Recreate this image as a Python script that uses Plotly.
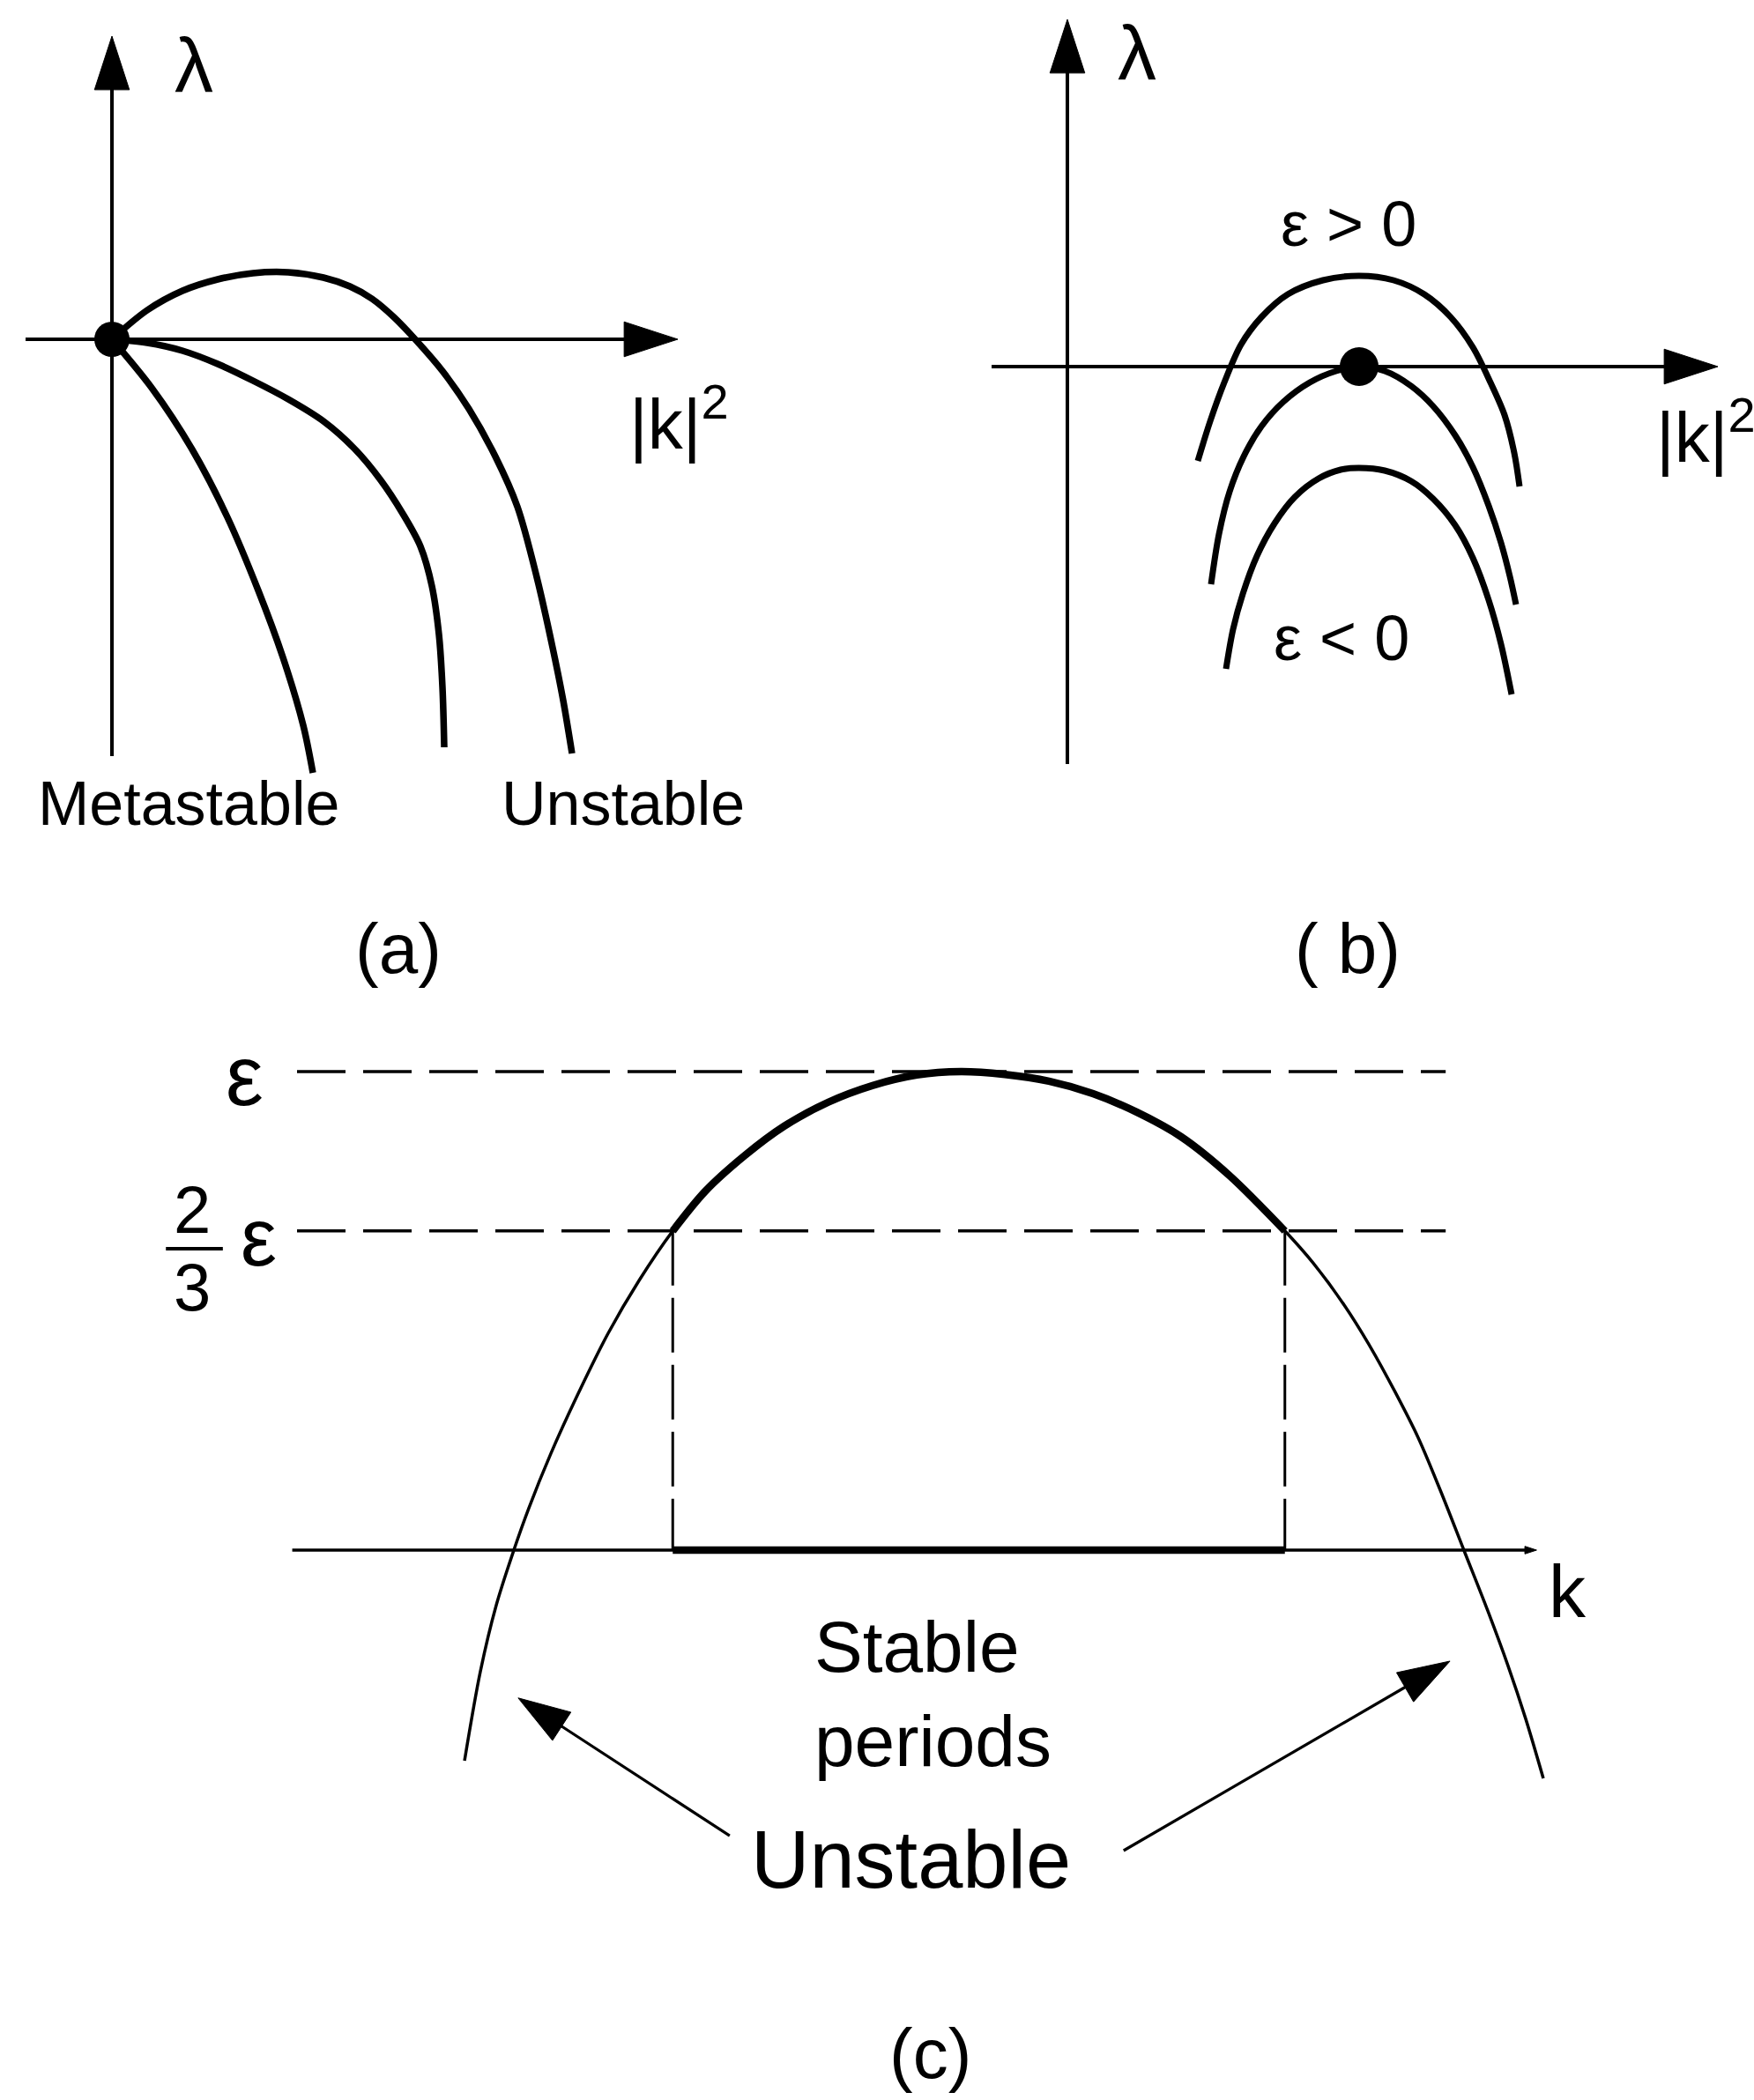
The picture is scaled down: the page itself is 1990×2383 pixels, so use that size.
import plotly.graph_objects as go

W, H = 1990, 2383

# ---------------- panel (a): λ versus |k|^2, from the origin ----------------
a_axis_k2 = [-0.98, 6.42]
a_axis_lam = [-4.73, 3.44]
a_k2_unstable = [0, 0.40, 0.80, 1.20, 1.60, 2.00, 2.40, 2.70, 2.95, 3.20, 3.44,
                 3.75, 4.05, 4.35, 4.60, 4.82, 5.00, 5.12, 5.22]
a_lam_unstable = [0, 0.33, 0.55, 0.68, 0.75, 0.76, 0.70, 0.60, 0.46, 0.25, 0.00,
                  -0.36, -0.79, -1.33, -1.90, -2.70, -3.50, -4.10, -4.70]
a_k2_marginal = [0, 0.40, 0.80, 1.20, 1.60, 2.00, 2.40, 2.75, 3.05, 3.30,
                 3.50, 3.63, 3.71, 3.75, 3.77]
a_lam_marginal = [0, -0.04, -0.13, -0.28, -0.47, -0.68, -0.93, -1.24, -1.60, -1.98,
                  -2.35, -2.80, -3.35, -3.95, -4.63]
a_k2_meta = [0, 0.45, 0.91, 1.31, 1.66, 1.94, 2.17, 2.28]
a_lam_meta = [0, -0.55, -1.25, -2.02, -2.85, -3.61, -4.38, -4.92]
a_critical = (0.0, 0.0)

# ---------------- panel (b): λ versus |k|^2 for three values of ε ----------------
b_axis_k2 = [-0.86, 7.38]
b_axis_lam = [-4.51, 3.94]
b_k2_pos = [1.48, 1.62, 1.78, 1.97, 2.20, 2.50, 2.90, 3.31, 3.70, 4.05,
            4.35, 4.60, 4.80, 4.96, 5.07, 5.13]
b_lam_pos = [-1.07, -0.62, -0.18, 0.25, 0.56, 0.82, 0.98, 1.03, 0.98, 0.82,
             0.56, 0.22, -0.18, -0.55, -0.98, -1.36]
b_k2_zero = [1.63, 1.72, 1.84, 2.00, 2.20, 2.45, 2.75, 3.05, 3.31, 3.60,
             3.90, 4.15, 4.40, 4.60, 4.78, 4.92, 5.02, 5.09]
b_lam_zero = [-2.47, -1.90, -1.42, -1.02, -0.68, -0.40, -0.18, -0.05, 0.00, -0.05,
              -0.22, -0.45, -0.78, -1.14, -1.58, -2.00, -2.38, -2.70]
b_k2_neg = [1.80, 1.88, 1.99, 2.15, 2.35, 2.58, 2.85, 3.10, 3.31, 3.60,
            3.90, 4.15, 4.40, 4.60, 4.78, 4.92, 5.04]
b_lam_neg = [-3.43, -2.98, -2.58, -2.15, -1.78, -1.48, -1.27, -1.17, -1.15, -1.18,
             -1.30, -1.50, -1.80, -2.17, -2.65, -3.15, -3.72]
b_critical = (3.31, 0.0)

# ---------------- panel (c): λ/ε versus k, Eckhaus band ----------------
c_axis_k = [-0.01, 2.59]
eps_level = 1.0
eckhaus_level = 0.667
c_dash_k = [0.0, 2.40]
c_k = [0.350, 0.383, 0.416, 0.453, 0.484, 0.530, 0.586, 0.650, 0.715, 0.785,
       0.853, 0.936, 1.018, 1.110, 1.203, 1.295, 1.387, 1.479, 1.571, 1.663,
       1.755, 1.847, 1.948, 2.064, 2.123, 2.188, 2.243, 2.293, 2.343, 2.390,
       2.438, 2.488, 2.530, 2.567, 2.604]
c_lam = [-0.440, -0.254, -0.116, 0.000, 0.087, 0.201, 0.324, 0.453, 0.564, 0.667,
         0.750, 0.825, 0.886, 0.936, 0.971, 0.993, 1.000, 0.994, 0.980, 0.954,
         0.915, 0.864, 0.783, 0.667, 0.600, 0.512, 0.424, 0.333, 0.234, 0.122,
         0.000, -0.127, -0.241, -0.352, -0.477]
c_arrow_left = ([0.904, 0.462], [-0.597, -0.309])
c_arrow_right = ([1.727, 2.409], [-0.628, -0.232])

SANS = "Liberation Sans, Arial, sans-serif"
INK = "black"


def frame(box, origin, scale):
    """Domain and range so that each panel sits in its pixel box."""
    px0, py0, px1, py1 = box
    ox, oy = origin
    xdom = [px0 / W, px1 / W]
    ydom = [1 - py1 / H, 1 - py0 / H]
    xr = [(px0 - ox) / scale, (px1 - ox) / scale]
    yr = [(oy - py1) / scale, (oy - py0) / scale]
    return xdom, ydom, xr, yr


fig = go.Figure()


def curve(x, y, ax, width, dash=None, shape="spline"):
    fig.add_trace(go.Scatter(
        x=x, y=y, xaxis="x" + ax, yaxis="y" + ax, mode="lines",
        line=dict(color=INK, width=width, shape=shape, smoothing=0.9, dash=dash),
        hoverinfo="skip", showlegend=False))


def arrow(x, y, ax, width, head):
    fig.add_trace(go.Scatter(
        x=x, y=y, xaxis="x" + ax, yaxis="y" + ax, mode="lines+markers",
        line=dict(color=INK, width=width),
        marker=dict(symbol="arrow", size=[0, head], angleref="previous",
                    color=INK, opacity=1, line=dict(color=INK, width=1)),
        hoverinfo="skip", showlegend=False))


def dot(pt, ax, size):
    fig.add_trace(go.Scatter(
        x=[pt[0]], y=[pt[1]], xaxis="x" + ax, yaxis="y" + ax, mode="markers",
        marker=dict(symbol="circle", size=size, color=INK),
        hoverinfo="skip", showlegend=False))


# panel (a)
arrow(a_axis_k2, [0, 0], "", 4, 64)
arrow([0, 0], a_axis_lam, "", 4, 64)
curve(a_k2_unstable, a_lam_unstable, "", 7.5)
curve(a_k2_marginal, a_lam_marginal, "", 7.5)
curve(a_k2_meta, a_lam_meta, "", 7.5)
dot(a_critical, "", 40)

# panel (b)
arrow(b_axis_k2, [0, 0], "2", 4, 64)
arrow([0, 0], b_axis_lam, "2", 4, 64)
curve(b_k2_pos, b_lam_pos, "2", 7)
curve(b_k2_zero, b_lam_zero, "2", 7)
curve(b_k2_neg, b_lam_neg, "2", 7)
dot(b_critical, "2", 44)

# panel (c)
for lvl in (eps_level, eckhaus_level):
    curve(c_dash_k, [lvl, lvl], "3", 3.5, dash="55px,20px", shape="linear")
arrow(c_axis_k, [0, 0], "3", 3.5, 14)
curve(c_k, c_lam, "3", 3.5)
band = [(k, l) for k, l in zip(c_k, c_lam) if l >= eckhaus_level - 1e-6]
band_k = [p[0] for p in band]
band_l = [p[1] for p in band]
curve(band_k, band_l, "3", 8.5)
for kb in (band_k[0], band_k[-1]):
    curve([kb, kb], [eckhaus_level, 0], "3", 3, dash="62px,14px", shape="linear")
curve([band_k[0], band_k[-1]], [0, 0], "3", 8.5, shape="linear")
arrow(*c_arrow_left, "3", 3.2, 62)
arrow(*c_arrow_right, "3", 3.2, 62)

# axes: hidden, each panel mapped onto its own box
hidden = dict(visible=False, showgrid=False, zeroline=False, fixedrange=True)
xa, ya, xra, yra = frame((0, 0, 900, 1000), (127, 385), 100)
xb, yb, xrb, yrb = frame((1000, 0, 1990, 1000), (1211, 416), 100)
xc, yc, xrc, yrc = frame((0, 1100, 1990, 2383), (337, 1759), 543)

fig.update_layout(
    width=W, height=H, autosize=False,
    margin=dict(l=0, r=0, t=0, b=0, pad=0),
    paper_bgcolor="white", plot_bgcolor="white",
    xaxis=dict(domain=xa, range=xra, anchor="y", **hidden),
    yaxis=dict(domain=ya, range=yra, anchor="x", **hidden),
    xaxis2=dict(domain=xb, range=xrb, anchor="y2", **hidden),
    yaxis2=dict(domain=yb, range=yrb, anchor="x2", **hidden),
    xaxis3=dict(domain=xc, range=xrc, anchor="y3", **hidden),
    yaxis3=dict(domain=yc, range=yrc, anchor="x3", **hidden),
)


def label(text, x, y, ax, size, xanchor="center", yanchor="middle", align="center"):
    ref = dict(xref="paper", yref="paper") if ax is None else dict(xref="x" + ax, yref="y" + ax)
    fig.add_annotation(text=text, x=x, y=y, showarrow=False, xanchor=xanchor,
                       yanchor=yanchor, align=align,
                       font=dict(family=SANS, size=size, color=INK), **ref)


# panel (a) text
label("λ", 0.93, 3.12, "", 88)
label("|k|<sup>2</sup>", 5.85, -0.90, "", 80, xanchor="left")
label("Metastable", 0.87, -5.27, "", 70)
label("Unstable", 5.80, -5.27, "", 70)
label("(a)", 452 / W, 1 - 1076 / H, None, 80)

# panel (b) text
label("λ", 0.79, 3.57, "2", 88)
label("|k|<sup>2</sup>", 6.66, -0.74, "2", 80, xanchor="left")
label("ε > 0", 3.19, 1.62, "2", 72)
label("ε < 0", 3.11, -3.08, "2", 72)
label("( b)", 1529 / W, 1 - 1076 / H, None, 80)

# panel (c) text
label("ε", -0.110, 0.991, "3", 96)
label("2", -0.219, 0.711, "3", 76)
label("3", -0.219, 0.549, "3", 76)
fig.add_shape(type="line", xref="x3", yref="y3", x0=-0.274, x1=-0.155,
              y0=0.630, y1=0.630, line=dict(color=INK, width=4))
label("ε", -0.081, 0.654, "3", 92)
label("k", 2.654, -0.087, "3", 84)
label("Stable<br>periods", 1.077, -0.300, "3", 82, xanchor="left", align="left")
label("Unstable", 1.282, -0.646, "3", 92)
label("(c)", 1055 / W, 1 - 2330 / H, None, 80)

fig.write_html("out.html")
